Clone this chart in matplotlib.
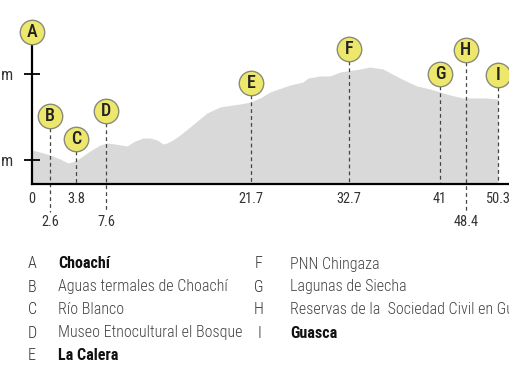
import matplotlib.pyplot as plt
from matplotlib import font_manager
import numpy as np

# prefer a condensed face if one is installed
installed = sorted({f.name for f in font_manager.fontManager.ttflist})
narrow = [n for n in installed if 'Condensed' in n or 'Narrow' in n]
preferred = ['Roboto Condensed', 'Liberation Sans Narrow', 'DejaVu Sans Condensed',
             'Noto Sans Condensed', 'Open Sans Condensed']
pick = [n for n in preferred if n in installed] + narrow + ['Roboto']
FONT = pick[0]
plt.rcParams['font.family'] = [FONT, 'DejaVu Sans']

# elevation profile (horizontal position along the drawing, elevation in m)
profile_pos = [0, 8, 18, 28, 36, 40, 45, 58, 68, 75, 83, 95, 103, 111, 118, 125,
               131, 135, 141, 148, 158, 175, 188, 201, 208, 218, 228, 238, 258,
               271, 276, 288, 298, 308, 328, 338, 351, 368, 385, 398, 418, 431,
               445, 455, 466]
profile_elev = [2116, 2093, 2058, 2012, 1965, 1977, 2000, 2105, 2174, 2198, 2186,
                2163, 2221, 2256, 2256, 2233, 2186, 2198, 2233, 2291, 2384, 2547,
                2616, 2640, 2651, 2674, 2721, 2791, 2872, 2907, 2953, 2977, 2977,
                3023, 3058, 3081, 3058, 2953, 2860, 2826, 2756, 2721, 2721, 2721,
                2709]

# stops
letters = ['A', 'B', 'C', 'D', 'E', 'F', 'G', 'H', 'I']
stop_pos = [0, 18, 44, 74, 219, 317, 408, 434, 466]
marker_elev = [3488, 2512, 2244, 2570, 2895, 3291, 3000, 3279, 2988]
km = ['0', '2.6', '3.8', '7.6', '21.7', '32.7', '41', '48.4', '50.3']
label_row = [0, 1, 0, 1, 0, 0, 0, 1, 0]
names = ['Choachí', 'Aguas termales de Choachí', 'Río Blanco',
         'Museo Etnocultural el Bosque', 'La Calera', 'PNN Chingaza',
         'Lagunas de Siecha', 'Reservas de la  Sociedad Civil en Guasca', 'Guasca']
bold = [True, False, False, False, True, False, False, False, True]

elev_ticks = [2000, 3000]
elev_labels = ['2000 m', '3000 m']

W, H = 510, 382
fig = plt.figure(figsize=(W / 100, H / 100), dpi=100)
renderer = fig.canvas.get_renderer()

# size the list font so the longest left-column name spans ~188 px like the reference
probe = fig.text(0, 0, names[3], fontsize=11)
w = probe.get_window_extent(renderer).width
probe.remove()
LIST_FS = min(12.0, 11 * 188 / w)
TICK_FS = LIST_FS * 0.9

ax = fig.add_axes([32 / W, (H - 184) / H, (W - 32) / W, 164 / H])
ax.set_xlim(0, 478)
ax.set_ylim(1721, 3628)

ax.fill_between(profile_pos, profile_elev, 1721, color='#d9d9d9', lw=0, zorder=1)

for s in ['top', 'right']:
    ax.spines[s].set_visible(False)
ax.spines['left'].set_bounds(1721, marker_elev[0])
ax.spines['left'].set_linewidth(1.6)
ax.spines['bottom'].set_linewidth(1.6)
ax.spines['left'].set_zorder(3)
ax.spines['bottom'].set_zorder(3)

ax.set_yticks(elev_ticks)
ax.set_yticklabels(elev_labels)
ax.tick_params(axis='y', direction='inout', length=11, width=1.3, pad=8,
               labelsize=LIST_FS, labelcolor='#333333')
ax.set_xticks([])

# helper: pixel offsets -> data units on y
def px_to_elev(px):
    return px * (3628 - 1721) / 164

r_elev = px_to_elev(12)
for i, L in enumerate(letters):
    x, e = stop_pos[i], marker_elev[i]
    if i > 0:
        bottom = 1721 - px_to_elev(28) if label_row[i] else 1721
        ax.plot([x, x], [e - r_elev, bottom], ls=(0, (3, 2.5)), color='#444444',
                lw=0.9, clip_on=False, zorder=2)
    ax.scatter([x], [e], s=310, color='#ede86c', edgecolors='#8a8a7a',
               linewidths=1.0, zorder=5, clip_on=False)
    ax.text(x, e, L, ha='center', va='center', fontsize=LIST_FS + 1.5,
            fontweight='medium', color='#222222', zorder=6, clip_on=False)
    ty = 1721 - px_to_elev(15 + 23 * label_row[i])
    ax.text(x, ty, km[i], ha='center', va='center', fontsize=TICK_FS,
            color='#333333', clip_on=False)

# legend list
for i, L in enumerate(letters):
    col = 0 if i < 5 else 1
    row = i if i < 5 else i - 5
    y = 1 - (264 + 23 * row) / H
    lx = 32 / W if col == 0 else 259 / W
    nx = 58 / W if col == 0 else 290 / W
    fig.text(lx, y, L, ha='center', va='center', fontsize=LIST_FS,
             fontweight='light', color='#333333')
    fig.text(nx, y, names[i], ha='left', va='center', fontsize=LIST_FS,
             color='#111111' if bold[i] else '#444444',
             fontweight='bold' if bold[i] else 'light')

fig.savefig('out.png', dpi=100)
